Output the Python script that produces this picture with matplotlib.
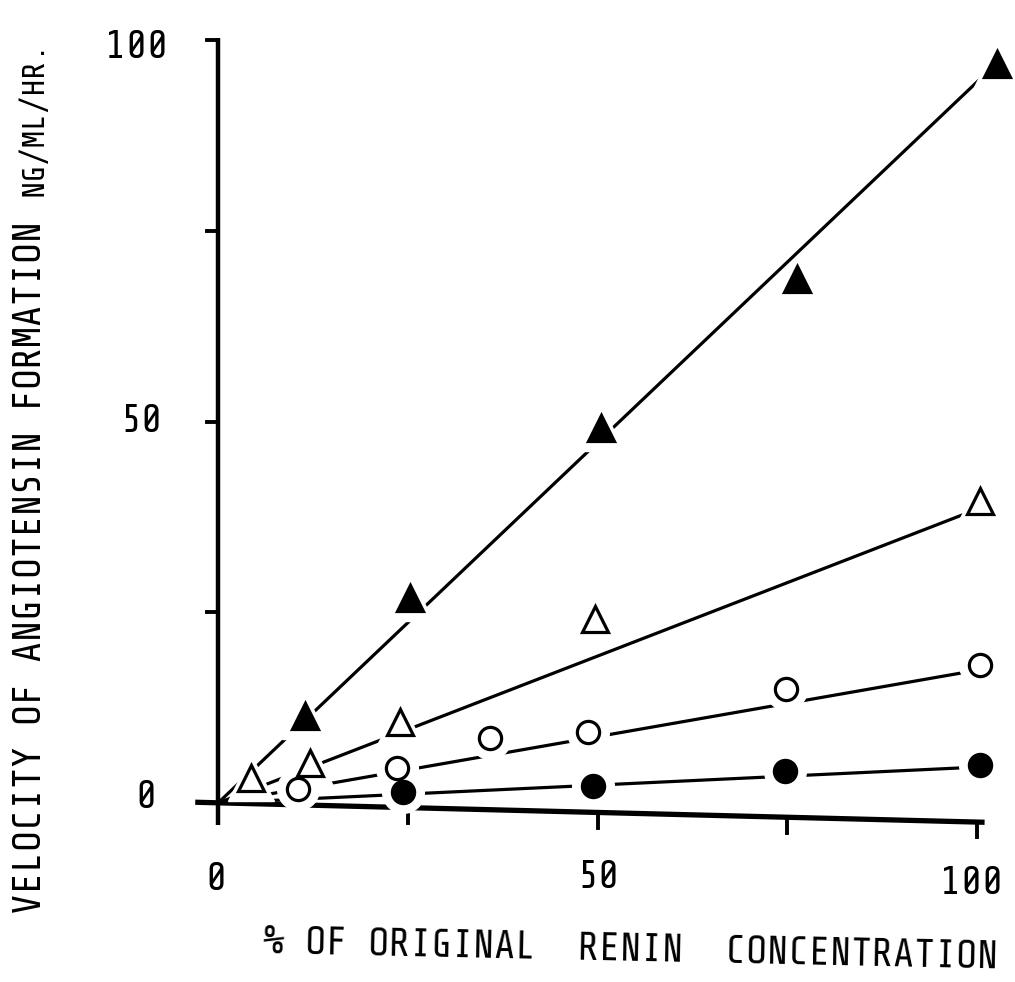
import numpy as np
import matplotlib.pyplot as plt
import matplotlib as mpl

mpl.rcParams['font.family'] = ['Share Tech Mono', 'DejaVu Sans Mono']

# data (x = % of original renin, y = ng/ml/hr)
tri_f_x = [11.5, 25.3, 50.5, 76.3, 102.6]
tri_f_y = [11.4, 26.9, 49.1, 68.7, 96.9]
tri_o_x = [4.3, 12.1, 24.0, 49.7, 100.4]
tri_o_y = [3.3, 5.2, 10.6, 24.1, 39.6]
circ_o_x = [10.5, 23.6, 35.8, 48.7, 74.8, 100.4]
circ_o_y = [1.8, 4.6, 8.5, 9.3, 14.9, 18.1]
circ_f_x = [24.4, 49.4, 74.7, 100.4]
circ_f_y = [1.4, 2.2, 4.2, 5.0]
# fitted lines through origin
slopes = [0.945, 0.385, 0.174, 0.047]
line_end = [102.6, 100.4, 100.4, 100.4]
yticks = [0, 25, 50, 75, 100]
ylabels = ['0', '50', '100']
xticks = [25, 50, 75, 100]
xlabels = ['0', '50', '100']

W, H = 1015, 982
fig = plt.figure(figsize=(W / 100, H / 100), dpi=100)
px_x = 7.59   # pixels per x unit
px_y = 7.63   # pixels per y unit
x0, y0 = 218, 803
l, r, t, b = 180, 1012, 25, 850
ax = fig.add_axes([l / W, (H - b) / H, (r - l) / W, (b - t) / H])
ax.set_xlim((l - x0) / px_x, (r - x0) / px_x)
ax.set_ylim((y0 - b) / px_y, (y0 - t) / px_y)
ax.axis('off')

def fx(px):
    return px / W

def fy(py):
    return 1 - py / H

# y axis with ticks
ax.plot([0, 0], [-2.9, 100.2], color='k', lw=3.2, solid_capstyle='butt')
for v in yticks:
    ax.plot([-1.5, 0], [v, v], color='k', lw=2.8)
# label right edges / centres in pixels (uneven, as typed)
for s, xr, yc in zip(ylabels, [156, 162, 168], [797, 421, 47]):
    fig.text(fx(xr), fy(yc), s, ha='right', va='center', fontsize=28)

# tilted x axis as in the scan
tilt = -2.5 / 100
ax.plot([-3.0, 101], [0.1, 101 * tilt], color='k', lw=3.8, solid_capstyle='butt')
for v in xticks:
    ax.plot([v, v], [v * tilt, v * tilt - 2.0], color='k', lw=2.8)
for s, xc, yc in zip(xlabels, [216, 598, 972], [880, 878, 883]):
    fig.text(fx(xc), fy(yc), s, ha='center', va='center', fontsize=28)

series = [
    (tri_f_x, tri_f_y, '^', 'k', 19),
    (tri_o_x, tri_o_y, '^', 'w', 19),
    (circ_o_x, circ_o_y, 'o', 'w', 16),
    (circ_f_x, circ_f_y, 'o', 'k', 16),
]
for (xs, ys, m, fc, ms), s, xe in zip(series, slopes, line_end):
    xx = np.array([0, xe])
    ax.plot(xx, s * xx, color='k', lw=2.3, zorder=2)
    ax.plot(xs, ys, ls='none', marker=m, ms=ms + 14, mfc='w', mec='w', zorder=3)
    ax.plot(xs, ys, ls='none', marker=m, ms=ms, mfc=fc, mec='k', mew=2.3, zorder=4)

# axis titles
fig.text(fx(263), fy(943), '% OF ORIGINAL  RENIN  CONCENTRATION',
         ha='left', va='center', fontsize=28, rotation=-1.2, rotation_mode='anchor')
fig.text(fx(31), fy(914), 'VELOCITY OF ANGIOTENSIN FORMATION',
         rotation=90, ha='center', va='bottom', fontsize=28)
fig.text(fx(33), fy(196), 'NG/ML/HR.',
         rotation=90, ha='center', va='bottom', fontsize=23)

fig.savefig('out.png', dpi=100)
